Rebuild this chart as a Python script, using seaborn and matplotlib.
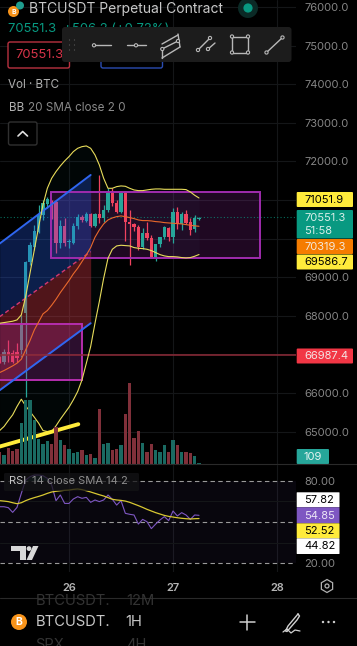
import matplotlib
matplotlib.use('Agg')
import matplotlib.pyplot as plt
from matplotlib.patches import Rectangle, Circle, FancyBboxPatch, Polygon, RegularPolygon
from matplotlib.colors import to_rgba
import numpy as np
import pandas as pd
import seaborn as sns

# hours from 26th 00:00
hours = list(range(-16, 31))
opens = [66900, 66814, 67073, 67030, 67073, 67116, 68066, 69404, 69792, 70181, 70613, 70897, 70958, 70958, 69879,
         70328, 69922, 69896, 70328, 70569, 70466, 70638, 70328, 70638, 70526, 70742, 71191, 70932, 70699, 71174,
         70440, 70380, 70293, 69775, 70138, 70008, 69516, 69853, 70034, 70267, 70034, 70699, 70380, 70638, 70440,
         70241, 70518]
closes = [66830, 67073, 66987, 66814, 66900, 67764, 69404, 69836, 70198, 70613, 70915, 71018, 70932, 69879, 70328,
          69896, 69940, 70328, 70569, 70483, 70638, 70328, 70638, 70526, 70742, 71174, 70932, 70699, 71174, 70440,
          70380, 70293, 69775, 70138, 70008, 69516, 69853, 70051, 70296, 70034, 70699, 70380, 70638, 70414, 70224,
          70526, 70543]
highs = [66950, 67150, 67375, 67116, 67289, 68022, 69430, 69900, 70354, 70872, 71001, 71087, 71001, 70990, 70483,
         70526, 70000, 70400, 70640, 70600, 70700, 70660, 70660, 71648, 70872, 71303, 71303, 70990, 71217, 71240,
         70742, 70414, 70354, 70267, 70440, 70095, 69560, 70051, 70330, 70300, 70785, 70828, 70700, 70742, 70526,
         70600, 70569]
lows = [66780, 66750, 66814, 66770, 66814, 66943, 65907, 69318, 69700, 70138, 70483, 70785, 70500, 69629, 69749,
        69800, 69750, 69860, 70250, 70440, 70440, 70290, 70290, 70414, 70440, 70700, 70850, 70670, 70650, 69950,
        69318, 70200, 69706, 69720, 69970, 69490, 69430, 69780, 70000, 69950, 69880, 70250, 70222, 70370, 70100,
        70180, 70480]
volume = [1890, 1350, 2590, 2050, 2430, 6590, 10260, 10260, 7020, 4050, 3130, 3670, 3130, 5940, 3780, 2970, 2430,
          1730, 1890, 2160, 1350, 1460, 970, 8910, 3240, 3350, 2270, 2380, 3080, 8030, 13120, 4100, 5240, 3350,
          1940, 3240, 2110, 1940, 2920, 1890, 3890, 3080, 1940, 1940, 1730, 1190, 109]

bb_upper = [67807, 67824, 67841, 67859, 67893, 68023, 68498, 69102, 69706, 70310, 70872, 71303, 71562, 71735, 71882,
            72011, 72123, 72253, 72339, 72382, 72400, 72339, 72166, 71908, 71562, 71303, 71303, 71346, 71364, 71355,
            71303, 71260, 71243, 71243, 71260, 71277, 71286, 71286, 71277, 71277, 71277, 71277, 71277, 71269, 71208,
            71122, 71052]
bb_basis = [66529, 66581, 66641, 66702, 66771, 66874, 67116, 67358, 67634, 67841, 68049, 68135, 68273, 68428, 68601,
            68756, 68912, 69085, 69231, 69404, 69577, 69767, 70034, 70224, 70380, 70483, 70535, 70569, 70587, 70569,
            70543, 70518, 70483, 70466, 70466, 70457, 70440, 70431, 70414, 70405, 70397, 70388, 70380, 70362, 70345,
            70330, 70319]
bb_lower = [65027, 65131, 65286, 65433, 65649, 65838, 65666, 65519, 65372, 65217, 65027, 65001, 65001, 65148, 65320,
            65476, 65631, 65821, 66037, 66339, 66771, 67203, 67807, 68368, 68972, 69490, 69723, 69810, 69827, 69818,
            69810, 69767, 69749, 69740, 69723, 69689, 69637, 69585, 69551, 69533, 69533, 69525, 69508, 69499, 69508,
            69542, 69587]

rsi = [61.1, 61.1, 60.4, 57.0, 60.6, 70.8, 80.5, 82.9, 84.1, 84.1, 83.6, 81.7, 76.9, 65.5, 69.6, 63.5, 63.5, 66.7,
       68.4, 67.2, 67.9, 64.3, 66.0, 64.8, 66.0, 69.6, 66.5, 62.3, 65.5, 56.3, 55.6, 55.1, 48.5, 51.9, 50.2, 45.2,
       48.5, 51.5, 53.9, 51.0, 58.0, 54.4, 56.8, 55.1, 51.9, 55.1, 54.85]
rsi_sma = [65.5, 65.2, 64.8, 64.0, 63.3, 64.0, 65.5, 66.7, 67.7, 68.6, 69.6, 70.8, 71.8, 72.3, 72.7, 73.0, 73.2,
           73.7, 74.0, 73.5, 72.7, 71.8, 70.8, 69.8, 68.9, 67.7, 66.5, 66.0, 65.7, 65.2, 64.3, 63.1, 61.9, 60.6,
           59.2, 58.0, 56.8, 55.8, 54.8, 54.1, 53.6, 53.1, 52.7, 52.4, 52.2, 52.4, 52.52]

price_ticks = [76000, 75000, 74000, 73000, 72000, 69000, 68000, 66000, 65000]
grid_prices = [76000, 75000, 74000, 73000, 72000, 71000, 70000, 69000, 68000, 67000, 66000, 65000]
rsi_ticks = [80, 20]
day_ticks = [0, 24, 48]
day_labels = ['26', '27', '28']

last_price = 70551.3
support = 66987.4
chan_hours = [-16, 5]
chan_upper = [69870, 71648]
chan_mid = [67975, 69663]
chan_lower = [66070, 67807]
trend_hours = [-16, 2.15]
trend_prices = [64612, 65191]
box1 = (-4.2, 44.1, 69490, 71217)
box2 = (-20, 2.9, 66339, 67781)

TEAL = '#26a69a'
RED = '#f0435f'
YELLOW = '#ffeb3b'
GREY = '#868686'
FONT = 'Inter'

sns.set_theme(style='dark', rc={'figure.facecolor': 'black', 'axes.facecolor': 'black', 'savefig.facecolor': 'black',
                                'patch.force_edgecolor': False})
plt.rcParams['font.family'] = [FONT, 'DejaVu Sans']

W, H = 357, 646
fig = plt.figure(figsize=(W / 100, H / 100), dpi=100)


def pane(y0, y1):
    return fig.add_axes([0, 1 - y1 / H, 296 / W, (y1 - y0) / H])


ax = pane(0, 464)
ax.set_xlim(-15.92, 52.38)
ax.set_ylim(64160, 76181)
ax_rsi = pane(464.5, 572)
ax_rsi.set_xlim(-15.92, 52.38)
ax_rsi.set_ylim(13.7, 91.76)
ax_vol = pane(0, 463.5)
ax_vol.set_xlim(-15.92, 52.38)
ax_vol.set_ylim(0, 75168)
ax_vol.patch.set_alpha(0)
ax_vol.set_axis_off()

for a in (ax, ax_rsi):
    for s in a.spines.values():
        s.set_visible(False)
    a.grid(False)
    a.yaxis.tick_right()
    a.tick_params(axis='y', length=0, pad=5.8, labelsize=8, labelcolor=GREY)
    for d in day_ticks:
        a.axvline(d, color='#141618', lw=0.8, zorder=0)

ax.set_yticks(price_ticks, [f'{p:.1f}' for p in price_ticks])
ax.set_xticks([])
for p in grid_prices:
    ax.axhline(p, color='#141618', lw=0.8, zorder=0)

df = pd.DataFrame({'hour': hours, 'open': opens, 'close': closes, 'high': highs, 'low': lows, 'volume': volume,
                   'upper': bb_upper, 'basis': bb_basis, 'lower': bb_lower, 'rsi': rsi, 'sma': rsi_sma})
df['dir'] = np.where(df['close'] >= df['open'], 'up', 'down')
colors = df['dir'].map({'up': TEAL, 'down': RED})

# bands
ax.fill_between(df['hour'], df['lower'], df['upper'], color='#26c6da', alpha=0.03, lw=0, zorder=1)

# candles
ax.vlines(df['hour'], df['low'], df['high'], colors=colors, lw=0.9, zorder=3)
ax.bar(df['hour'], (df['close'] - df['open']).abs().clip(lower=25), bottom=df[['open', 'close']].min(axis=1),
       width=0.72, color=colors, lw=0, zorder=3)

# parallel channel
ax.fill_between(chan_hours, chan_mid, chan_upper, color='#2962ff', alpha=0.28, lw=0, zorder=4)
ax.fill_between(chan_hours, chan_lower, chan_mid, color='#f23645', alpha=0.33, lw=0, zorder=4)
sns.lineplot(x=chan_hours, y=chan_upper, color='#2f66f0', lw=1.4, ax=ax, zorder=6)
sns.lineplot(x=chan_hours, y=chan_lower, color='#2f66f0', lw=1.4, ax=ax, zorder=6)
ax.plot(chan_hours, chan_mid, color='#d8386e', lw=1.0, ls=(0, (3, 2)), zorder=6)

# boxes
for (x0, x1, y0, y1), edge, alpha, zf in ((box1, '#a02cae', 0.2, 2), (box2, '#b52eae', 0.24, 5)):
    ax.add_patch(Rectangle((x0, y0), x1 - x0, y1 - y0, facecolor=to_rgba(edge, alpha), edgecolor='none', zorder=zf))
    ax.add_patch(Rectangle((x0, y0), x1 - x0, y1 - y0, facecolor='none', edgecolor=edge, lw=1.4, zorder=5))

# bollinger lines
sns.lineplot(data=df, x='hour', y='upper', color='#e8dc5a', lw=0.8, ax=ax, zorder=7)
sns.lineplot(data=df, x='hour', y='lower', color='#e8dc5a', lw=0.8, ax=ax, zorder=7)
sns.lineplot(data=df, x='hour', y='basis', color='#e9692c', lw=0.8, ax=ax, zorder=7)

ax.axhline(support, color='#8e2a38', lw=1.1, zorder=6)
ax.axhline(last_price, color='#089981', lw=0.8, ls=(0, (1, 2)), alpha=0.7, zorder=2)
sns.lineplot(x=trend_hours, y=trend_prices, color=YELLOW, lw=2.8, ax=ax, zorder=8)
ax.set_xlabel('')
ax.set_ylabel('')

# volume
sns.barplot(data=df, x='hour', y='volume', hue='dir', palette={'up': '#1a6a62', 'down': '#80303a'}, saturation=1,
            native_scale=True, width=0.72, dodge=False, legend=False, lw=0, ax=ax_vol, zorder=2)
ax_vol.set_xlim(-15.92, 52.38)
ax_vol.set_ylim(0, 75168)
ax_vol.set_axis_off()

# rsi
ax_rsi.axhspan(20, 80, color='#7e57c2', alpha=0.07, lw=0, zorder=0)
for lev in (80, 50, 20):
    ax_rsi.axhline(lev, color='#9a9a9a', lw=0.8, ls=(0, (4, 3)), zorder=1)
ax_rsi.axhline(65, color='#141618', lw=0.8, zorder=0)
ax_rsi.axhline(35, color='#141618', lw=0.8, zorder=0)
ax_rsi.fill_between(df['hour'], 80, df['rsi'], where=df['rsi'] > 80, color='#26a69a', alpha=0.2, lw=0, zorder=1)
sns.lineplot(data=df, x='hour', y='rsi', color='#7e57c2', lw=0.8, ax=ax_rsi, zorder=3)
sns.lineplot(data=df, x='hour', y='sma', color='#d8c832', lw=0.9, ax=ax_rsi, zorder=4)
ax_rsi.set_xlabel('')
ax_rsi.set_ylabel('')
ax_rsi.set_yticks(rsi_ticks, [f'{t:.2f}' for t in rsi_ticks])
ax_rsi.set_xticks(day_ticks, day_labels)
ax_rsi.tick_params(axis='x', length=0, pad=8, labelsize=8, labelcolor='#b4b4b4')
for t in ax_rsi.get_xticklabels():
    t.set_fontweight('semibold')

# screen furniture in pixel coordinates
ui = fig.add_axes([0, 0, 1, 1], zorder=20)
ui.set_xlim(0, W)
ui.set_ylim(H, 0)
ui.set_axis_off()
ui.patch.set_alpha(0)


def text(x, y, s, color='#c8c8c8', size=8.0, ha='left', **kw):
    return ui.text(x, y, s, color=color, fontsize=size, ha=ha, va='center', **kw)


def box(x0, y0, x1, y1, fc, ec='none', lw=0, r=1.0, z=2):
    ui.add_patch(FancyBboxPatch((x0 + r, y0 + r), x1 - x0 - 2 * r, y1 - y0 - 2 * r,
                                boxstyle=f'round,pad={r}', fc=fc, ec=ec, lw=lw, zorder=z))


def seg(xs, ys, color='#b8b8b8', lw=1.0, z=6):
    ui.plot(xs, ys, color=color, lw=lw, zorder=z, solid_capstyle='round')


def dot(x, y, r=1.6, color='#b8b8b8', z=7):
    ui.add_patch(Circle((x, y), r, fc='#1c1c1c', ec=color, lw=0.8, zorder=z))


# price tags
for y0, y1, fc, tc, s in ((192, 207, YELLOW, 'black', '71051.9'), (239, 254, '#f57c00', '#f4e8dc', '70319.3'),
                          (254.5, 269.5, YELLOW, 'black', '69586.7'), (348.5, 363.5, '#f23645', '#f4e4e4', '66987.4')):
    box(296.7, y0, 353, y1, fc)
    text(304, (y0 + y1) / 2 + 0.3, s, color=tc)
box(296.7, 210, 353, 238.5, '#089981')
text(304, 218, '70551.3', color='#d8efe9')
text(304, 231, '51:58', color='#d8efe9')
box(296.7, 449, 329, 464, TEAL)
text(312.8, 456.5, '109', color='#e6f4f2', ha='center')

# rsi tags
for y0, y1, fc, tc, s in ((492.3, 507.3, 'white', 'black', '57.82'), (507.3, 523.3, '#7e57c2', '#ece6f6', '54.85'),
                          (523.3, 538.3, YELLOW, 'black', '52.52'), (538.3, 554, 'white', 'black', '44.82')):
    box(296.7, y0, 339.5, y1, fc, r=0.5)
    text(304, (y0 + y1) / 2 + 0.3, s, color=tc)

# rsi legend
box(4, 473, 139, 491, to_rgba('#141416', 0.75), r=1.5)
text(8.5, 481, 'RSI', color='#c8c8c8')
text(31.5, 481, '14 close SMA 14 2', color='#8e8e8e')

# tv logo
ui.add_patch(Polygon([(11, 546), (26, 546), (26, 560), (20, 560), (20, 551), (11, 551)], fc='#d8d8d8', ec='none', zorder=6))
ui.add_patch(Circle((29, 548.6), 2.4, fc='#d8d8d8', ec='none', zorder=6))
ui.add_patch(Polygon([(33, 546), (38.5, 546), (32, 560), (26.5, 560)], fc='#d8d8d8', ec='none', zorder=6))

# settings hexagon
ui.add_patch(RegularPolygon((327, 586), 6, radius=6.5, fc='none', ec='#b0b0b0', lw=0.9))
ui.add_patch(Circle((327, 586), 2, fc='none', ec='#b0b0b0', lw=0.9))

# separators
ui.plot([0, W], [464, 464], color='#2a2a2a', lw=0.8)
ui.plot([0, W], [598, 598], color='#2a2a2a', lw=0.8)

# header
ui.add_patch(Circle((13.5, 11.5), 5.5, fc='#f7931a', ec='none'))
text(13.5, 11.7, 'B', color='white', size=5, ha='center', fontweight='bold')
ui.add_patch(Circle((20, 5.5), 4, fc='#1f9e8f', ec='none'))
text(29, 8.5, 'BTCUSDT Perpetual Contract', color='#c8c8c8', size=10.0)
ui.add_patch(Circle((248, 8), 10, fc='#0b2a26', ec='none'))
ui.add_patch(Circle((248, 8), 4.6, fc='#089981', ec='none'))
text(8, 29, '70551.3  +506.2 (+0.72%)', color='#089981', size=9.4)
box(8, 42, 69.5, 68, 'black', ec='#b83240', lw=1.0, r=2)
text(15, 55, '70551.3', color='#d8344a', size=9.4)
box(101, 42, 162.5, 68, 'black', ec='#2a4cb0', lw=1.0, r=2)
text(8.5, 84.5, 'Vol · BTC', color='#b0b0b0', size=8.4)
text(8.5, 108, 'BB', color='#b0b0b0', size=8.4)
text(27.5, 108, '20 SMA close 2 0', color='#8a8a8a', size=8.4)
box(8.5, 122, 37, 145, 'black', ec='#303030', lw=1.0, r=2)
seg([18, 22.7, 27.5], [136, 131.5, 136], color='#e0e0e0', lw=1.2)

# drawing toolbar
box(62, 27, 291.5, 62, '#1c1c1c', r=3, z=5)
for gx in (69.5, 74.5):
    for gy in (40, 45, 50):
        ui.add_patch(Circle((gx, gy), 0.6, fc='#5c5c5c', ec='none', zorder=6))
seg([94, 110.7], [45.3, 45.3])
dot(94, 45.3)
seg([127, 146], [45.3, 45.3])
dot(136, 45.3)
seg([162, 178], [49, 41])
seg([162, 180], [58, 47])
seg([162, 162], [49, 58])
seg([178, 180], [34, 47])
seg([162, 178], [44, 35])
dot(162.3, 49)
dot(178, 41)
seg([198, 210], [50, 38])
seg([207, 215], [50, 43])
dot(198, 50)
dot(210, 38)
dot(208, 49)
seg([232, 248, 248, 232, 232], [36.5, 36.5, 52.5, 52.5, 36.5])
for cx in (232, 248):
    for cy in (36.5, 52.5):
        dot(cx, cy)
seg([266.5, 282.5], [52.5, 37.5])
dot(266.5, 52.5)
dot(282.5, 37.5)

# footer
ui.add_patch(Rectangle((0, 598.5), W, 47.5, fc='black', ec='none', zorder=1))
clip = Rectangle((0, 598.5), W, 47.5, transform=ui.transData)
for x, y, s in ((35.5, 601, 'BTCUSDT.'), (126.5, 601, '12M'), (35.5, 645, 'SPX'), (126.5, 645, '4H')):
    t = text(x, y, s, color='#333333', size=10.6)
    t.set_clip_path(clip)
ui.add_patch(Circle((19, 622), 8, fc='#f7931a', ec='none'))
text(19, 622.3, 'B', color='white', size=7.5, ha='center', fontweight='bold')
text(35.5, 622, 'BTCUSDT.', color='#c8c8c8', size=10.6)
text(125, 622, '1H', color='#c8c8c8', size=10.6)
seg([239.5, 255], [622, 622], color='#d0d0d0', lw=1.1)
seg([247, 247], [614.5, 630], color='#d0d0d0', lw=1.1)
seg([298, 288, 285.5, 287, 297, 299.5, 298], [614, 626, 631, 631.5, 620, 616, 614], color='#d0d0d0', lw=1.0)
seg([283, 287, 291, 295, 300], [632, 629, 633, 630, 631], color='#d0d0d0', lw=0.9)
for x in (328.5, 334, 323):
    ui.add_patch(Circle((x, 622), 1.2, fc='#d0d0d0', ec='none'))

fig.savefig('out.png', dpi=100)
